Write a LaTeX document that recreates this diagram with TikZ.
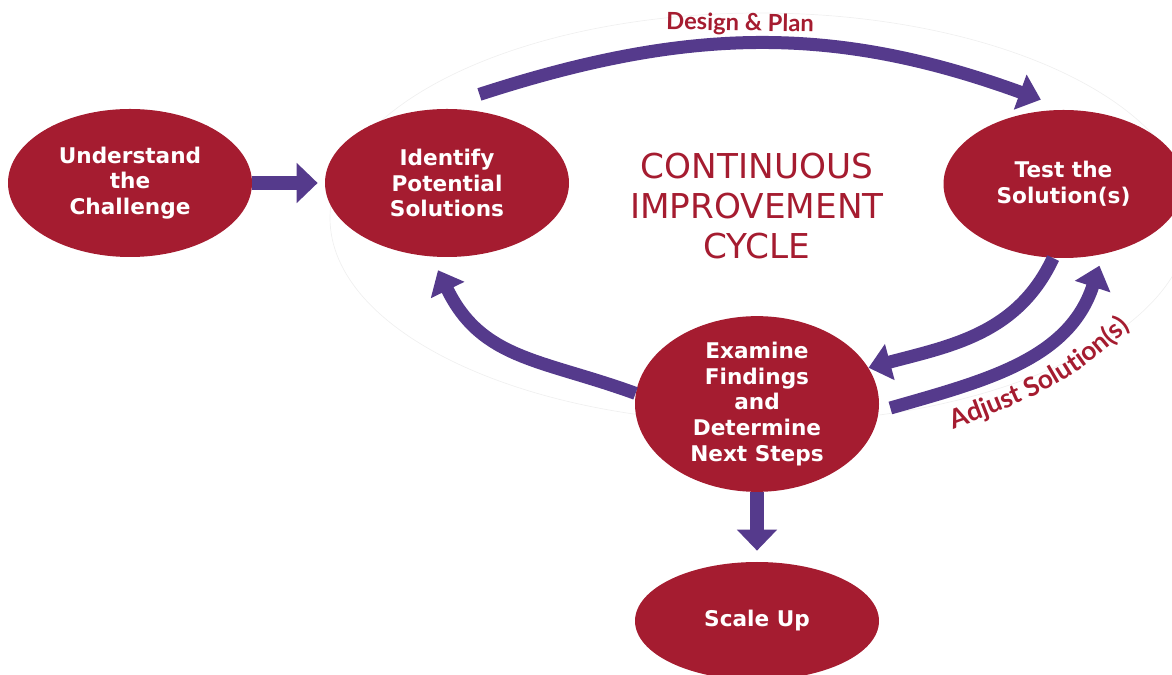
\documentclass[tikz,border=0pt]{standalone}
\usepackage{fontspec}
\setmainfont{DejaVu Sans}
\newfontfamily\curvefont{Lato}
\usepackage{tikz}
\usetikzlibrary{shapes.geometric,arrows.meta,decorations.text}
\definecolor{cyclered}{RGB}{165,28,48}
\definecolor{cyclepurple}{RGB}{85,58,140}

\begin{document}
\begin{tikzpicture}[
    stage/.style={ellipse, fill=cyclered, text=white, align=center, inner sep=0pt,
        font=\bfseries\fontsize{12.3}{14.7}\selectfont, minimum width=4.88cm, minimum height=2.96cm},
    cyclearrow/.style={cyclepurple, line width=0.26cm, -{Triangle[width=0.72cm,length=0.44cm]}},
    flowarrow/.style={cyclepurple, line width=0.29cm, -{Triangle[width=0.78cm,length=0.42cm]}},
    steplabel/.style={text=cyclered, font=\curvefont\bfseries\fontsize{13.5}{16}\selectfont}
]
    \useasboundingbox (0,0) rectangle (23.44,13.48);
    \draw[gray!12, thin] (15.2,9.12) ellipse (8.6cm and 4.1cm);
    \node[stage] (understand) at (2.6,9.82) {Understand\\the\\Challenge};
    \node[stage] (ident) at (8.94,9.82) {Identify\\Potential\\Solutions};
    \node[stage, minimum width=4.8cm] (test) at (21.27,9.8) {Test the\\Solution(s)};
    \node[stage, minimum height=3.28cm] (examine) at (15.14,5.4) {Examine\\Findings\\and\\Determine\\Next Steps};
    \node[stage, minimum height=2.36cm] (scale) at (15.14,1.06) {Scale Up};
    \node[text=cyclered, align=center, font=\fontsize{19.5}{22.7}\selectfont] (title) at (15.14,9.36) {CONTINUOUS\\IMPROVEMENT\\CYCLE};
    \draw[flowarrow, shorten >=0.14cm] (understand) -- (ident);
    \draw[cyclearrow] ([shift={(0.12,0.32)}]ident.70) to[out=18, in=160] ([shift={(-0.06,0.22)}]test.105);
    \draw[cyclearrow] (test.262) to[out=245, in=15] (examine.18);
    \draw[cyclearrow] ([shift={(0.22,-0.08)}]examine.east) to[out=16, in=252] ([shift={(0.08,-0.2)}]test.294);
    \draw[cyclearrow] (examine.175) to[out=160, in=296, looseness=1.1] ([shift={(-0.05,-0.26)}]ident.265);
    \draw[flowarrow, shorten >=0.22cm] (examine) -- (scale);
    \node[steplabel, rotate=-1] (design) at (14.8,13.0) {Design \& Plan};
    \path[decorate, decoration={text along path, text align=left,
        text={|\curvefont\bfseries\fontsize{15}{18}\selectfont\color{cyclered}|Adjust Solution(s)}}]
        (19.06,4.9) to[out=20, in=228] (22.95,7.3);
\end{tikzpicture}
\end{document}
